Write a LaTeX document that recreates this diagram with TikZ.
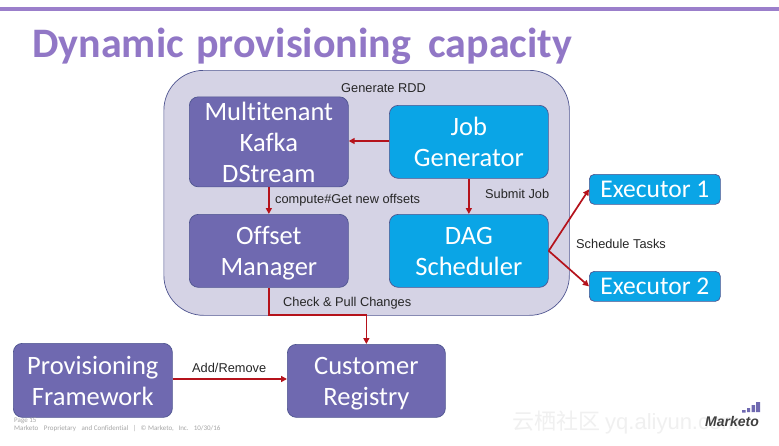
\documentclass[tikz,border=0pt]{standalone}
\usepackage{fontspec}
\setmainfont[Ligatures=CommonOff]{Carlito}
\newfontfamily\arialf{Liberation Sans}
\newfontfamily\cjkf{Noto Sans CJK SC}
\usetikzlibrary{arrows.meta}
\definecolor{barpurple}{HTML}{9B7FCB}
\definecolor{boxpurple}{HTML}{6F69B0}
\definecolor{boxline}{HTML}{4F5590}
\definecolor{boxblue}{HTML}{0AA5E6}
\definecolor{panel}{HTML}{D5D3E5}
\definecolor{redline}{HTML}{B5121B}
\definecolor{titlecol}{HTML}{9177C6}
\newcommand{\st}{\rule[-6.3pt]{0pt}{31pt}}
\tikzset{
 x=1pt,y=-1pt,
 boxbase/.style={draw=boxline,line width=0.7pt,rounded corners=9pt,inner sep=0pt,anchor=north west,text=white,align=center,font=\fontsize{26.5}{31}\selectfont},
 purplebox/.style={boxbase,fill=boxpurple},
 bluebox/.style={boxbase,fill=boxblue},
 execbox/.style={boxbase,fill=boxblue,rounded corners=5pt,font=\fontsize{25.5}{31}\selectfont},
 conn/.style={draw=redline,line width=1.7pt,-{Triangle[length=6pt,width=6pt]}},
 lab/.style={font=\arialf\fontsize{12.8}{14}\selectfont,text=black!85,inner sep=0pt,anchor=west},
 foot/.style={font=\fontsize{7}{8}\selectfont,text=black!35,inner sep=0pt,anchor=west},
}
\begin{document}
\begin{tikzpicture}
\useasboundingbox (0,0) rectangle (779,445);
\fill[white] (0,0) rectangle (779,445);
\fill[barpurple] (0,7) rectangle (779,10.5);
\node[inner sep=0pt,anchor=west,text=titlecol,font=\bfseries\fontsize{42}{48}\selectfont] (title) at (32,46) {Dynamic\hspace{3pt} provisioning\hspace{8pt} capacity};
\node[draw=boxline,line width=0.7pt,fill=panel,rounded corners=40pt,minimum width=405.5pt,minimum height=245pt,inner sep=0pt,anchor=north west] (outer) at (163.5,70) {};
\node[purplebox,minimum width=159pt,inner ysep=-1.5pt] (kafka) at (189,96.5) {\st Multitenant\\\st Kafka\\\st DStream};
\node[bluebox,minimum width=159pt,minimum height=73pt] (job) at (389,105) {\st Job\\\st Generator};
\node[purplebox,minimum width=159pt,minimum height=73pt] (offset) at (189,214) {\st Offset\\\st Manager};
\node[bluebox,minimum width=159pt,minimum height=73pt] (dag) at (389,214) {\st DAG\\\st Scheduler};
\node[execbox,minimum width=131pt,minimum height=30pt] (ex1) at (589,174) {Executor 1};
\node[execbox,minimum width=131pt,minimum height=30pt] (ex2) at (589,271) {Executor 2};
\node[purplebox,minimum width=158pt,minimum height=73pt] (reg) at (287,344) {\st Customer\\\st Registry};
\node[purplebox,minimum width=159pt,minimum height=74pt] (prov) at (13,343) {\st Provisioning\\\st Framework};
\node[lab] (l1) at (341,88) {Generate RDD};
\node[lab] (l2) at (275,200.5) {compute\#Get new offsets};
\node[lab] (l3) at (485,193.5) {Submit Job};
\node[lab] (l4) at (576,243.5) {Schedule Tasks};
\node[lab] (l5) at (283,303.5) {Check \& Pull Changes};
\node[lab] (l6) at (192,368) {Add/Remove};
\coordinate (bend1) at (offset.south |- 0,315);
\coordinate (bend2) at (reg.north |- 0,315);
\draw[conn] (job.west |- 0,141) -- (kafka.east |- 0,141);
\draw[conn] (kafka.south) -- (offset.north);
\draw[conn] (job.south) -- (dag.north);
\draw[conn] (dag.east) -- (ex1.west);
\draw[conn] (dag.east) -- (ex2.west);
\draw[conn] (offset.south) -- (bend1) -- (bend2) -- (reg.north);
\draw[conn] (prov.east |- 0,379) -- (reg.west |- 0,379);
\node[foot] (f1) at (14,421) {Page 15};
\node[foot] (f2) at (14,428.5) {Marketo\hspace{4pt} Proprietary\hspace{4pt} and Confidential\hspace{3pt} |\hspace{3pt} © Marketo,\hspace{3pt} Inc.\hspace{3pt} 10/30/16};
\node[inner sep=0pt,anchor=west,text=black!6,font=\fontsize{22}{26}\selectfont] (wm) at (512,423) {{\cjkf 云栖社区} {\arialf yq.aliyun.com}};
\fill[boxpurple] (742,412.5) rectangle (745.5,410)
 (747,412) rectangle (750,408)
 (751.5,412) rectangle (755,405)
 (756,412) rectangle (760,402);
\node[inner sep=0pt,anchor=west,text=black!75,font=\arialf\bfseries\itshape\fontsize{14}{16}\selectfont] (logo) at (705,421.5) {Marketo};
\end{tikzpicture}
\end{document}
